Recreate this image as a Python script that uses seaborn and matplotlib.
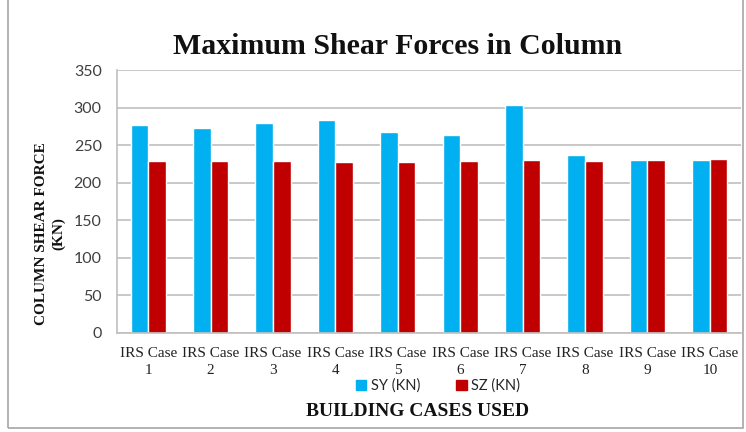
import numpy as np
import pandas as pd
import seaborn as sns
import matplotlib.pyplot as plt
from matplotlib.patches import Rectangle

cases = ["IRS Case\n1", "IRS Case\n2", "IRS Case\n3", "IRS Case\n4", "IRS Case\n5",
         "IRS Case\n6", "IRS Case\n7", "IRS Case\n8", "IRS Case\n9", "IRS Case\n10"]
sy = [277, 273, 280, 283, 267, 264, 303, 237, 230, 230]
sz = [229, 229, 229, 227, 227, 229, 230, 229, 230, 231]
series = ["SY (KN)", "SZ (KN)"]
colors = ["#00B0F0", "#C00000"]

df = pd.DataFrame({
    "case": cases * 2,
    "force": sy + sz,
    "series": [series[0]] * len(cases) + [series[1]] * len(cases),
})

sns.set_style("white")
fig = plt.figure(figsize=(7.46, 4.32), dpi=100)
ax = fig.add_axes([117 / 746, 1 - 333 / 432, 624 / 746, 263 / 432])

sns.barplot(data=df, x="case", y="force", hue="series", palette=colors,
            width=0.566, saturation=1, ax=ax, legend=False)

ax.set_ylim(0, 350)
ax.set_yticks(np.arange(0, 351, 50))
ax.set_xlim(-0.5, len(cases) - 0.5)
ax.yaxis.grid(True, color="#BFBFBF", linewidth=1.2)
ax.set_axisbelow(True)
for s in ["top", "right"]:
    ax.spines[s].set_visible(False)
for s in ["left", "bottom"]:
    ax.spines[s].set_color("#BFBFBF")
    ax.spines[s].set_linewidth(1.2)
ax.tick_params(axis="y", length=0, labelsize=11.5, labelcolor="#404040", pad=11)
ax.tick_params(axis="x", length=0, labelsize=11, labelcolor="#222222", pad=10)
for t in ax.get_yticklabels():
    t.set_fontfamily("Lato")
for t in ax.get_xticklabels():
    t.set_fontfamily("Liberation Serif")
    t.set_linespacing(1.45)
ax.set_xlabel("")
ax.set_ylabel("")

fig.text(398 / 746, 1 - 47 / 432, "Maximum Shear Forces in Column",
         family="Liberation Serif", weight="bold", size=21.5,
         ha="center", va="center", color="#111111")
fig.text(50 / 746, 1 - 234 / 432, "COLUMN SHEAR FORCE\n(KN)",
         family="Liberation Serif", weight="bold", size=11, rotation=90,
         ha="center", va="center", multialignment="center", linespacing=1.4,
         color="#111111")
fig.text(418 / 746, 1 - 412 / 432, "BUILDING CASES USED",
         family="Liberation Serif", weight="bold", size=14,
         ha="center", va="center", color="#111111")

handles = [Rectangle((0, 0), 1, 1, color=c) for c in colors]
fig.legend(handles, series, loc="center", bbox_to_anchor=(438 / 746, 1 - 386 / 432),
           ncol=2, frameon=False, prop={"family": "Lato", "size": 10.5},
           handlelength=0.7, handleheight=0.7, handletextpad=0.3, columnspacing=2.5)

fig.patches.append(Rectangle((8 / 746, 4 / 432), 735 / 746, 1.0, transform=fig.transFigure,
                             fill=False, edgecolor="#A6A6A6", linewidth=1.2))

fig.savefig("out.png", dpi=100)
